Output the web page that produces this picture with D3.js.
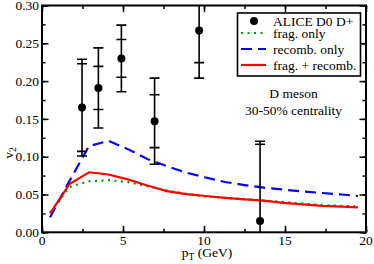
<!DOCTYPE html>
<html>
<head>
<meta charset="utf-8">
<script src="https://d3js.org/d3.v7.min.js"></script>
<style>
  body { margin: 0; background: #fff; }
</style>
</head>
<body>
<svg id="chart" width="374" height="264"></svg>
<script>
// ALICE data points: pT, v2, inner and outer error
var dataPt = [2.47, 3.48, 4.9, 6.95, 9.7, 13.46];
var dataV2 = [0.165, 0.191, 0.230, 0.147, 0.267, 0.015];
var errInner = [0.058, 0.0285, 0.025, 0.035, 0.0425, 0.1015];
var errOuter = [0.064, 0.053, 0.044, 0.057, 0.063, 0.1055];

// model curves
var curvePt = [0.5, 1.7, 2.9, 4.1, 5.3, 6.5, 7.7, 8.9, 10.1, 11.3, 12.5, 13.7, 14.9, 16.1, 17.3, 18.5, 19.5];
var fragOnly = [0.026, 0.060, 0.0675, 0.069, 0.0665, 0.061, 0.0555, 0.051, 0.0475, 0.0455, 0.044, 0.042, 0.040, 0.038, 0.036, 0.035, 0.034];
var recombOnly = [0.0198, 0.068, 0.114, 0.121, 0.110, 0.097, 0.0875, 0.079, 0.0725, 0.0665, 0.0625, 0.059, 0.0565, 0.054, 0.052, 0.050, 0.048];
var fragRecomb = [0.025, 0.0639, 0.0794, 0.0765, 0.070, 0.062, 0.0545, 0.0505, 0.048, 0.0455, 0.0435, 0.0418, 0.039, 0.037, 0.035, 0.034, 0.033];

var xTicks = [0, 5, 10, 15, 20];
var yTicks = [0, 0.05, 0.10, 0.15, 0.20, 0.25, 0.30];

var svg = d3.select("#chart").style("font-family", "'Liberation Serif', 'Times New Roman', serif");
var margin = {top: 5.5, right: 8, bottom: 31.7, left: 42},
    width = +svg.attr("width") - margin.left - margin.right,
    height = +svg.attr("height") - margin.top - margin.bottom;

var x = d3.scaleLinear().domain([0, 20]).range([0, width]),
    y = d3.scaleLinear().domain([0, 0.3]).range([height, 0]);

var g = svg.append("g")
    .attr("transform", "translate(" + margin.left + "," + margin.top + ")");

g.append("clipPath").attr("id", "clip")
  .append("rect").attr("width", width).attr("height", height);

// ticks pointing inward on all four sides
function tickAxis(axis, ticks, major) {
  return axis.tickValues(ticks).tickSize(major ? -6.5 : -3.5).tickFormat("");
}
var xMinor = d3.range(0, 20.01, 2.5), yMinor = d3.range(0, 0.301, 0.025);

g.append("g").attr("transform", "translate(0," + height + ")").call(tickAxis(d3.axisBottom(x), xMinor, false));
g.append("g").attr("transform", "translate(0," + height + ")").call(tickAxis(d3.axisBottom(x), xTicks, true));
g.append("g").call(tickAxis(d3.axisTop(x), xMinor, false));
g.append("g").call(tickAxis(d3.axisTop(x), xTicks, true));
g.append("g").call(tickAxis(d3.axisLeft(y), yMinor, false));
g.append("g").call(tickAxis(d3.axisLeft(y), yTicks, true));
g.append("g").attr("transform", "translate(" + width + ",0)").call(tickAxis(d3.axisRight(y), yMinor, false));
g.append("g").attr("transform", "translate(" + width + ",0)").call(tickAxis(d3.axisRight(y), yTicks, true));

g.selectAll(".domain").remove();
g.selectAll(".tick line").attr("stroke", "#000").attr("stroke-width", 1.5);

// frame
g.append("rect")
    .attr("width", width).attr("height", height)
    .attr("fill", "none").attr("stroke", "#000").attr("stroke-width", 2);

// tick labels
g.selectAll(".xlab").data(xTicks).enter().append("text")
    .attr("x", d => x(d)).attr("y", height + 13)
    .attr("text-anchor", "middle").attr("font-size", 13.5)
    .text(d => d);
g.selectAll(".ylab").data(yTicks).enter().append("text")
    .attr("x", -3).attr("y", d => y(d) + 4.7)
    .attr("text-anchor", "end").attr("font-size", 13.5)
    .text(d => d.toFixed(2));

// axis titles
var xt = svg.append("text")
    .attr("x", 207).attr("y", 256.7)
    .attr("text-anchor", "middle").attr("font-size", 13.5);
xt.append("tspan").text("p");
xt.append("tspan").attr("font-size", 9.5).attr("dy", 3).text("T");
xt.append("tspan").attr("dy", -3).text(" (GeV)");

var yt = svg.append("text")
    .attr("transform", "translate(13,153) rotate(-90)")
    .attr("text-anchor", "middle").attr("font-size", 13.5);
yt.append("tspan").text("v");
yt.append("tspan").attr("font-size", 9.5).attr("dy", 3).text("2");

// curves
var plot = g.append("g").attr("clip-path", "url(#clip)");
var line = d3.line().x((d, i) => x(curvePt[i])).y(d => y(d));

plot.append("path").datum(fragOnly)
    .attr("d", line).attr("fill", "none")
    .attr("stroke", "#00a000").attr("stroke-width", 2.2)
    .attr("stroke-dasharray", "2,4.5");
plot.append("path").datum(recombOnly)
    .attr("d", line).attr("fill", "none")
    .attr("stroke", "#0000ff").attr("stroke-width", 2.2)
    .attr("stroke-dasharray", "11,6");
plot.append("path").datum(fragRecomb)
    .attr("d", line).attr("fill", "none")
    .attr("stroke", "#ff0000").attr("stroke-width", 2.2);

// error bars and points
var pts = plot.selectAll(".pt").data(dataPt).enter().append("g");
pts.append("line")
    .attr("x1", d => x(d)).attr("x2", d => x(d))
    .attr("y1", (d, i) => y(dataV2[i] + errOuter[i]))
    .attr("y2", (d, i) => y(dataV2[i] - errOuter[i]))
    .attr("stroke", "#000").attr("stroke-width", 1.6);
[errInner, errOuter].forEach(function(err) {
  [1, -1].forEach(function(s) {
    pts.append("line")
        .attr("x1", d => x(d) - 5).attr("x2", d => x(d) + 5)
        .attr("y1", (d, i) => y(dataV2[i] + s * err[i]))
        .attr("y2", (d, i) => y(dataV2[i] + s * err[i]))
        .attr("stroke", "#000").attr("stroke-width", 1.6);
  });
});
pts.append("circle")
    .attr("cx", d => x(d)).attr("cy", (d, i) => y(dataV2[i]))
    .attr("r", 4).attr("fill", "#000");

// legend
var legend = svg.append("g");
legend.append("rect")
    .attr("x", 237.5).attr("y", 13).attr("width", 123).attr("height", 63)
    .attr("fill", "#fff").attr("stroke", "#000").attr("stroke-width", 1.6);
var rows = [
  {label: "ALICE D0 D+", y: 21},
  {label: "frag. only", y: 33, color: "#00a000", dash: "2,4.5"},
  {label: "recomb. only", y: 49, color: "#0000ff", dash: "11,6"},
  {label: "frag. + recomb.", y: 65, color: "#ff0000", dash: null}
];
rows.forEach(function(r, i) {
  if (i === 0) {
    legend.append("circle").attr("cx", 254).attr("cy", r.y).attr("r", 4).attr("fill", "#000");
  } else {
    legend.append("line")
        .attr("x1", 241).attr("x2", 266).attr("y1", r.y).attr("y2", r.y)
        .attr("stroke", r.color).attr("stroke-width", 2.2)
        .attr("stroke-dasharray", r.dash);
  }
  legend.append("text")
      .attr("x", 273).attr("y", r.y + 4.5)
      .attr("font-size", 13.5).text(r.label);
});

// annotation
svg.append("text").attr("x", 293.5).attr("y", 97.5)
    .attr("text-anchor", "middle").attr("font-size", 13.5).text("D meson");
svg.append("text").attr("x", 293.5).attr("y", 115)
    .attr("text-anchor", "middle").attr("font-size", 13.5).text("30-50% centrality");
</script>
</body>
</html>
